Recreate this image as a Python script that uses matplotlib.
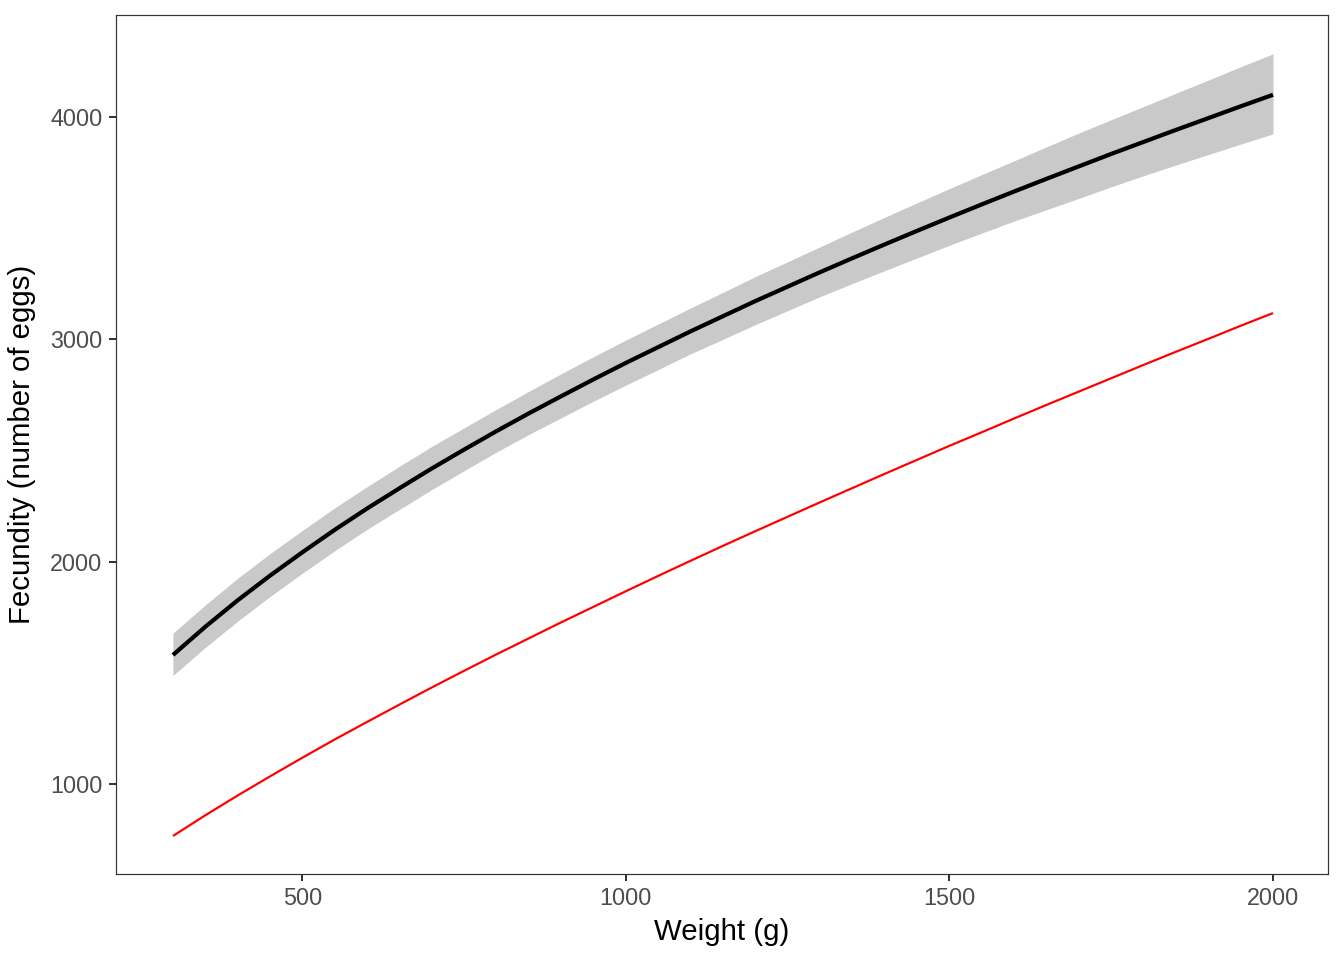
import matplotlib
matplotlib.use("Agg")
import matplotlib.pyplot as plt

plt.rcParams["font.family"] = ["Liberation Sans", "DejaVu Sans"]

# values
weight = [300, 350, 400, 450, 500, 550, 600, 650, 700, 750, 800, 850, 900, 950,
          1000, 1050, 1100, 1150, 1200, 1250, 1300, 1350, 1400, 1450, 1500,
          1550, 1600, 1650, 1700, 1750, 1800, 1850, 1900, 1950, 2000]
fecundity_fit = [1580, 1707, 1826, 1937, 2042, 2143, 2239, 2330, 2419, 2504,
                 2587, 2667, 2744, 2820, 2894, 2965, 3036, 3104, 3172, 3237,
                 3302, 3365, 3427, 3488, 3548, 3607, 3665, 3722, 3778, 3834,
                 3888, 3942, 3995, 4048, 4100]
fecundity_lower = [1488, 1614, 1732, 1843, 1948, 2049, 2145, 2235, 2324, 2409,
                   2493, 2572, 2647, 2722, 2794, 2864, 2935, 3000, 3066, 3129,
                   3192, 3251, 3309, 3366, 3423, 3478, 3532, 3583, 3634, 3686,
                   3736, 3784, 3831, 3878, 3924]
fecundity_upper = [1678, 1805, 1925, 2036, 2140, 2242, 2337, 2429, 2518, 2602,
                   2685, 2766, 2845, 2922, 2997, 3069, 3141, 3211, 3282, 3349,
                   3416, 3483, 3549, 3614, 3678, 3741, 3803, 3866, 3928, 3988,
                   4047, 4107, 4166, 4226, 4284]
fecundity_ref = [766, 859, 948, 1034, 1118, 1200, 1279, 1357, 1434, 1509,
                 1583, 1655, 1727, 1797, 1867, 1936, 2004, 2071, 2137, 2202,
                 2267, 2331, 2395, 2458, 2521, 2582, 2644, 2705, 2765, 2825,
                 2885, 2944, 3002, 3061, 3118]

x_ticks = [500, 1000, 1500, 2000]
y_ticks = [1000, 2000, 3000, 4000]

fig = plt.figure(figsize=(1344 / 144, 960 / 144), dpi=144)
ax = fig.add_axes([0.0863, 0.0896, 0.9018, 0.8948])

ax.fill_between(weight, fecundity_lower, fecundity_upper, color="#C9C9C9", linewidth=0)
ax.plot(weight, fecundity_fit, color="black", linewidth=2.1, solid_capstyle="butt")
ax.plot(weight, fecundity_ref, color="red", linewidth=1.1, solid_capstyle="butt")

ax.set_xlim(212, 2085)
ax.set_ylim(595, 4459)
ax.set_xticks(x_ticks)
ax.set_yticks(y_ticks)
ax.tick_params(axis="both", labelsize=11.7, labelcolor="#4D4D4D", color="#333333",
               length=3.7, width=1.0, pad=3)

for spine in ax.spines.values():
    spine.set_linewidth(0.6)
    spine.set_color("#333333")

ax.set_xlabel("Weight (g)", fontsize=14.7, labelpad=4)
ax.set_ylabel("Fecundity (number of eggs)", fontsize=14.7, labelpad=7)

fig.savefig("out.png", dpi=144)
